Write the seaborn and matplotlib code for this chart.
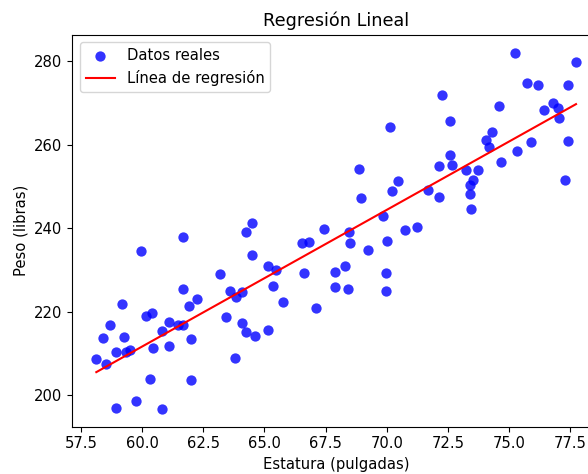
import numpy as np
import pandas as pd
import matplotlib
matplotlib.use("Agg")
import matplotlib.pyplot as plt
import seaborn as sns

# Heights (inches) and weights (pounds)
estatura = [
    61.69, 59.96, 63.17, 61.66, 63.61, 62.25, 59.16, 61.92, 60.16, 60.42,
    58.69, 61.11, 61.45, 61.66, 63.44, 60.80, 58.41, 59.28, 62.00, 58.93,
    59.34, 59.51, 60.45, 61.11, 58.13, 58.51, 63.80, 60.32, 61.99, 59.76,
    58.92, 60.83, 64.07, 63.84, 64.07, 64.24, 64.51, 67.43, 68.45, 70.75,
    66.55, 66.80, 68.49, 70.01, 69.23, 64.51, 65.15, 65.49, 66.63, 67.87,
    68.28, 69.96, 65.33, 67.90, 68.40, 69.96, 65.77, 67.12, 64.23, 64.62,
    65.13, 70.15, 68.85, 70.46, 70.23, 68.93, 69.86, 71.24, 75.25, 77.73,
    75.74, 76.18, 77.39, 72.26, 74.57, 76.78, 76.42, 77.00, 77.03, 72.58,
    74.31, 74.04, 74.16, 75.89, 77.39, 75.32, 72.58, 72.13, 72.65, 74.65,
    73.22, 73.71, 73.53, 73.39, 73.41, 73.44, 77.30, 71.69, 72.15,
]
peso = [
    237.9, 234.45, 228.95, 225.5, 224.95, 222.97, 221.84, 221.36, 218.83, 219.62,
    216.75, 217.39, 216.67, 216.67, 218.73, 215.38, 213.56, 213.95, 213.47, 210.2,
    210.2, 210.7, 211.17, 211.65, 208.54, 207.49, 208.78, 203.83, 203.59, 198.49,
    196.82, 196.65, 224.71, 223.37, 217.15, 239.0, 241.32, 239.88, 239.0, 239.47,
    236.36, 236.77, 236.44, 236.91, 234.69, 233.56, 230.93, 230.07, 229.26, 229.43,
    230.93, 229.26, 226.24, 225.91, 225.36, 224.95, 222.32, 220.74, 215.0, 214.19,
    215.62, 264.35, 254.07, 251.36, 248.8, 247.13, 242.82, 240.26, 282.13, 279.9,
    274.8, 274.23, 274.23, 271.94, 269.21, 269.93, 268.25, 268.73, 266.51, 265.72,
    263.09, 261.08, 259.4, 260.6, 261.0, 258.54, 257.49, 255.02, 255.19, 255.98,
    253.83, 253.83, 251.67, 250.24, 248.09, 244.67, 251.44, 249.04, 247.54,
]

titulo = "Regresión Lineal"
etiqueta_x = "Estatura (pulgadas)"
etiqueta_y = "Peso (libras)"
leyenda_puntos = "Datos reales"
leyenda_linea = "Línea de regresión"

plt.rcParams["font.size"] = 10.6

df = pd.DataFrame({"x": estatura, "y": peso})
pendiente, intercepto = np.polyfit(df["x"], df["y"], 1)
x_linea = np.sort(df["x"].values)
y_linea = pendiente * x_linea + intercepto
df_linea = pd.DataFrame({"x": x_linea, "y": y_linea})

fig = plt.figure(figsize=(5.88, 4.74), dpi=100)
ax = fig.add_axes([0.123, 0.0998, 0.8974, 0.827])

sns.scatterplot(data=df, x="x", y="y", color="blue", alpha=0.8, s=55,
                linewidth=0, label=leyenda_puntos, ax=ax)
sns.lineplot(data=df_linea, x="x", y="y", color="red", linewidth=1.5,
             label=leyenda_linea, ax=ax, sort=False)

ax.margins(0.05)
ax.set_title(titulo)
ax.set_xlabel(etiqueta_x)
ax.set_ylabel(etiqueta_y)
ax.legend(loc="upper left")

fig.savefig("out.png", dpi=100)
